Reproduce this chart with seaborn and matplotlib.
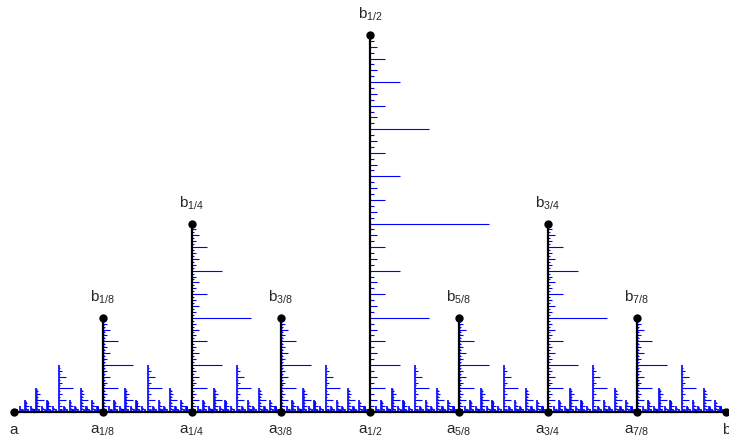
import numpy as np
import pandas as pd
import matplotlib
matplotlib.use("Agg")
import matplotlib.pyplot as plt
import seaborn as sns

sns.set_style("white")
plt.rcParams['font.family'] = ['Liberation Sans', 'DejaVu Sans']
plt.rcParams['mathtext.fontset'] = 'custom'
plt.rcParams['mathtext.rm'] = 'Liberation Sans'
plt.rcParams['mathtext.it'] = 'Liberation Sans:italic'

# Construction parameters
depth = 8             # number of dyadic levels drawn
marked_depth = 3      # levels drawn in black with marked endpoints
steps = 64            # tick subdivisions along each vertical
top_height = 1.0      # height of the vertical at 1/2
top_tick = 1 / 6      # length of the middle tick on the vertical at 1/2

# Labelled points
bottom_pos = [0, 1/8, 1/4, 3/8, 1/2, 5/8, 3/4, 7/8, 1]
bottom_names = ["a", "a_{1/8}", "a_{1/4}", "a_{3/8}", "a_{1/2}",
                "a_{5/8}", "a_{3/4}", "a_{7/8}", "b"]
top_pos = [1/8, 1/4, 3/8, 1/2, 5/8, 3/4, 7/8]
top_names = ["b_{1/8}", "b_{1/4}", "b_{3/8}", "b_{1/2}",
             "b_{5/8}", "b_{3/4}", "b_{7/8}"]

# Verticals at x = k / 2^n (k odd), height halves each level
rows = []
for n in range(1, depth + 1):
    for k in range(1, 2 ** n, 2):
        rows.append((k / 2 ** n, top_height / 2 ** (n - 1), n))
verticals = pd.DataFrame(rows, columns=["x", "h", "level"])

# Horizontal ticks to the right of each vertical
tick_rows = []
for x, h, n in verticals.itertuples(index=False):
    scale = 1 / 2 ** (n - 1)
    for j in range(1, steps):
        weight = j & -j
        length = top_tick * weight / (steps / 2) * scale
        tick_rows.append((x, h * j / steps, x + length))
ticks = pd.DataFrame(tick_rows, columns=["x0", "y", "x1"])

fig = plt.figure(figsize=(7.29, 4.39), dpi=100)
ax = fig.add_axes([0, 0, 1, 1])
W, H = 729, 439
px_x, px_y = 712, 377
ax.set_xlim(-14 / px_x, (W - 14) / px_x)
ax.set_ylim(-(H - 413) / px_y, 413 / px_y)
ax.axis("off")

blue = "#0000ff"
ax.hlines(ticks["y"], ticks["x0"], ticks["x1"], colors=blue, lw=0.8, zorder=1)

minor = verticals[verticals["level"] > marked_depth]
major = verticals[verticals["level"] <= marked_depth]
ax.vlines(minor["x"], 0, minor["h"], colors=blue, lw=1.2, zorder=2)
ax.vlines(major["x"], 0, major["h"], colors="black", lw=1.6, zorder=3)
ax.hlines([0], 0, 1, colors="black", lw=1.6, zorder=3)

# Endpoints
dots = pd.DataFrame({
    "x": list(bottom_pos) + list(major["x"]),
    "y": [0.0] * len(bottom_pos) + list(major["h"]),
})
sns.scatterplot(data=dots, x="x", y="y", color="black", s=36,
                edgecolor="black", linewidth=0, zorder=5, ax=ax, legend=False)
ax.axis("off")

def label(s):
    base, _, sub = s.partition("_")
    if sub:
        return r"$\mathrm{%s}_{\mathrm{%s}}$" % (base, sub.strip("{}"))
    return s

for x, s in zip(bottom_pos, bottom_names):
    ax.annotate(label(s), (x, 0), xytext=(0, -21), textcoords="offset pixels",
                ha="center", va="baseline", fontsize=11)

heights = dict(zip(major["x"], major["h"]))
for x, s in zip(top_pos, top_names):
    ax.annotate(label(s), (x, heights[x]), xytext=(0, 17),
                textcoords="offset pixels", ha="center", va="baseline",
                fontsize=11)

fig.savefig("out.png", dpi=100)
